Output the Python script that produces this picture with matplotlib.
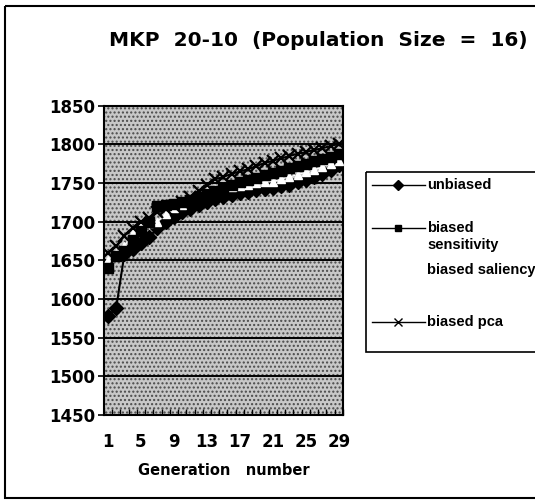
import numpy as np
import matplotlib
matplotlib.use("Agg")
import matplotlib.pyplot as plt
from matplotlib.patches import Rectangle
from matplotlib.lines import Line2D

# data
generations = list(range(1, 30))
unbiased = [1578, 1588, 1658, 1665, 1672, 1680, 1692, 1700, 1706, 1712,
            1717, 1721, 1725, 1729, 1732, 1735, 1737, 1739, 1741, 1742,
            1744, 1746, 1748, 1751, 1754, 1758, 1762, 1767, 1773]
biased_sensitivity = [1640, 1655, 1662, 1676, 1688, 1700, 1720, 1722, 1723, 1725,
                      1728, 1732, 1736, 1740, 1744, 1748, 1751, 1754, 1757, 1760,
                      1763, 1766, 1769, 1772, 1775, 1778, 1781, 1784, 1787]
biased_saliency = [1650, 1660, 1668, 1685, 1695, 1698, 1700, 1710, 1718, 1722,
                   1728, 1735, 1740, 1742, 1744, 1745, 1746, 1748, 1750, 1751,
                   1752, 1755, 1758, 1761, 1764, 1767, 1771, 1775, 1779]
biased_pca = [1660, 1668, 1682, 1692, 1700, 1705, 1712, 1716, 1720, 1726,
              1732, 1740, 1748, 1755, 1758, 1762, 1765, 1768, 1772, 1776,
              1779, 1782, 1785, 1788, 1790, 1793, 1795, 1798, 1801]
x_labels = [1, 5, 9, 13, 17, 21, 25, 29]
y_ticks = [1450, 1500, 1550, 1600, 1650, 1700, 1750, 1800, 1850]

plt.rcParams['font.family'] = ['DejaVu Sans']
plt.rcParams['font.weight'] = 'bold'

fig = plt.figure(figsize=(5.35, 5.04), dpi=100)
ax = fig.add_axes([0.194, 0.177, 0.447, 0.613])

# stippled grey plot area like the scan
ax.set_facecolor('#c8c8c8')
ax.add_patch(Rectangle((0, 0), 1, 1, transform=ax.transAxes, facecolor='none',
                       edgecolor='#4a4a4a', hatch='....', linewidth=0, zorder=0))

for v in y_ticks:
    ax.axhline(v, color='black', linewidth=1.4, zorder=1)

ax.plot(generations, unbiased, color='black', linewidth=1.5, marker='D',
        markersize=7, markerfacecolor='black', zorder=3)
ax.plot(generations, biased_saliency, color='white', linewidth=0.8, marker='^',
        markersize=6, markerfacecolor='white', markeredgecolor='white', zorder=3.5)
ax.plot(generations, biased_sensitivity, color='black', linewidth=1.5, marker='s',
        markersize=6.5, markerfacecolor='black', zorder=4)
ax.plot(generations, biased_pca, color='black', linewidth=1.5, marker='x',
        markersize=8, markeredgewidth=1.6, zorder=5)

ax.set_xlim(0.5, 29.5)
ax.set_ylim(1450, 1850)
ax.set_yticks(y_ticks)
ax.set_xticks(x_labels)
ax.set_xticks(np.arange(0.5, 30, 1), minor=True)
ax.tick_params(axis='x', which='major', length=0, pad=13, labelsize=12)
ax.tick_params(axis='x', which='minor', direction='in', length=4, width=1)
ax.tick_params(axis='y', direction='out', length=4, width=1.2, labelsize=12, pad=2)
for lbl in ax.get_xticklabels() + ax.get_yticklabels():
    lbl.set_fontweight('bold')
for s in ax.spines.values():
    s.set_linewidth(1.5)

ax.set_xlabel('Generation   number', fontsize=10.5, fontweight='bold', labelpad=9)

# overlay in pixel coordinates for title, legend box and outer border
lay = fig.add_axes([0, 0, 1, 1], facecolor='none')
lay.set_xlim(0, 535)
lay.set_ylim(504, 0)
lay.axis('off')

lay.text(318, 40, 'MKP  20-10  (Population  Size  =  16)', ha='center', va='center',
         fontsize=14.5, fontweight='bold')

lay.add_patch(Rectangle((366, 172), 200, 180, fill=False, edgecolor='black', linewidth=1.2))
leg_font = dict(fontsize=10.5, fontweight='bold', va='center', ha='left',
                family=['Liberation Sans', 'DejaVu Sans'])
lay.add_line(Line2D([372, 425], [185, 185], color='black', linewidth=1))
lay.plot([398], [185], marker='D', color='black', markersize=5)
lay.text(427, 185, 'unbiased', **leg_font)
lay.add_line(Line2D([372, 425], [228, 228], color='black', linewidth=1))
lay.plot([398], [228], marker='s', color='black', markersize=4.5)
lay.text(427, 228, 'biased', **leg_font)
lay.text(427, 245, 'sensitivity', **leg_font)
lay.text(427, 270, 'biased saliency', **leg_font)
lay.add_line(Line2D([372, 425], [322, 322], color='black', linewidth=1))
lay.plot([398], [322], marker='x', color='black', markersize=6, markeredgewidth=1)
lay.text(427, 322, 'biased pca', **leg_font)

# outer chart border
lay.add_patch(Rectangle((5, 6), 600, 492, fill=False, edgecolor='black', linewidth=1.5))

plt.savefig('out.png', dpi=100)
